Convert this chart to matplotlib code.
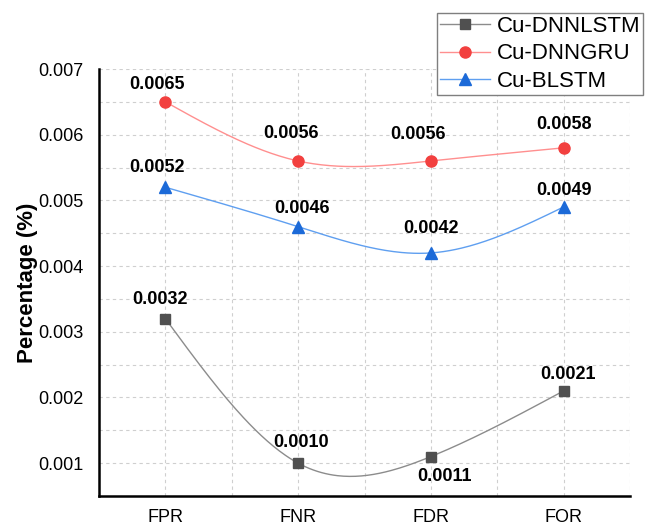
import numpy as np
import matplotlib
matplotlib.use("Agg")
import matplotlib.pyplot as plt
from matplotlib.transforms import offset_copy

plt.rcParams['font.family'] = ['Liberation Sans', 'DejaVu Sans']

categories = ["FPR", "FNR", "FDR", "FOR"]
series_names = ["Cu-DNNLSTM", "Cu-DNNGRU", "Cu-BLSTM"]
dnnlstm = [0.0032, 0.0010, 0.0011, 0.0021]
dnngru = [0.0065, 0.0056, 0.0056, 0.0058]
blstm = [0.0052, 0.0046, 0.0042, 0.0049]
labels_dnnlstm = ["0.0032", "0.0010", "0.0011", "0.0021"]
labels_dnngru = ["0.0065", "0.0056", "0.0056", "0.0058"]
labels_blstm = ["0.0052", "0.0046", "0.0042", "0.0049"]
y_ticks = [0.001, 0.002, 0.003, 0.004, 0.005, 0.006, 0.007]

# label offsets in pixels (dx, dy) relative to points
off_dnnlstm = [(-5, 19), (3, 21), (14, -20), (4, 16)]
off_dnngru = [(-8, 17), (-7, 27), (-13, 26), (0, 23)]
off_blstm = [(-8, 20), (4, 18), (0, 24), (0, 16)]


def natural_spline(xs, ys, n=200):
    xs = np.asarray(xs, float)
    ys = np.asarray(ys, float)
    k = len(xs)
    h = np.diff(xs)
    A = np.zeros((k, k))
    b = np.zeros(k)
    A[0, 0] = 1
    A[-1, -1] = 1
    for i in range(1, k - 1):
        A[i, i - 1] = h[i - 1]
        A[i, i] = 2 * (h[i - 1] + h[i])
        A[i, i + 1] = h[i]
        b[i] = 6 * ((ys[i + 1] - ys[i]) / h[i] - (ys[i] - ys[i - 1]) / h[i - 1])
    M = np.linalg.solve(A, b)
    xx = np.linspace(xs[0], xs[-1], n)
    yy = np.empty_like(xx)
    for j, x in enumerate(xx):
        i = min(np.searchsorted(xs, x, side='right') - 1, k - 2)
        t = (x - xs[i]) / h[i]
        yy[j] = ((1 - t) * ys[i] + t * ys[i + 1]
                 - h[i] ** 2 / 6 * t * (1 - t) * ((2 - t) * M[i] + (1 + t) * M[i + 1]))
    return xx, yy


fig = plt.figure(figsize=(6.54, 5.25), dpi=100)
ax = fig.add_axes([99 / 654, 1 - 496 / 525, 531 / 654, 427 / 525])

x = np.arange(len(categories))
specs = [
    (dnnlstm, labels_dnnlstm, off_dnnlstm, 's', '#505050', '#8c8c8c', 6.5, series_names[0]),
    (dnngru, labels_dnngru, off_dnngru, 'o', '#f2403f', '#ff8f8f', 8, series_names[1]),
    (blstm, labels_blstm, off_blstm, '^', '#1c6ad8', '#5f9ff0', 8.5, series_names[2]),
]
handles = []
for vals, labs, offs, mk, mc, lc, ms, name in specs:
    xx, yy = natural_spline(x, vals)
    ax.plot(xx, yy, color=lc, lw=1.0, zorder=3)
    ax.plot(x, vals, linestyle='none', marker=mk, color=mc, markersize=ms, zorder=4)
    h, = ax.plot([], [], color=lc, lw=1.0, marker=mk, markerfacecolor=mc,
                 markeredgecolor=mc, markersize=ms, label=name)
    handles.append(h)
    for xi, v, lab, (dx, dy) in zip(x, vals, labs, offs):
        tr = offset_copy(ax.transData, fig=fig, x=dx, y=dy, units='dots')
        ax.text(xi, v, lab, transform=tr, ha='center', va='center',
                fontsize=13, fontweight='bold', color='black', zorder=5)

ax.set_xlim(-0.5, 3.5)
ax.set_ylim(0.0005, 0.007)
ax.set_xticks(x)
ax.set_xticklabels(categories)
ax.set_yticks(y_ticks)
ax.set_yticklabels([f"{t:.3f}" for t in y_ticks])
ax.set_xticks(np.arange(-0.5, 3.6, 0.5), minor=True)
ax.set_yticks(np.arange(0.0005, 0.00701, 0.0005), minor=True)
ax.tick_params(which='both', length=0)
ax.tick_params(axis='both', labelsize=13, colors='black')
ax.tick_params(axis='x', pad=9)
ax.tick_params(axis='y', pad=11)
ax.grid(True, which='both', linestyle=(0, (3, 3)), color='#cfcfcf', lw=0.8, zorder=0)
ax.set_axisbelow(True)
for s in ['top', 'right']:
    ax.spines[s].set_visible(False)
for s in ['left', 'bottom']:
    ax.spines[s].set_linewidth(1.8)
    ax.spines[s].set_color('black')
ax.set_ylabel("Percentage (%)", fontsize=16, fontweight='bold', labelpad=0)

leg = fig.legend(handles=handles, loc='upper right',
                 bbox_to_anchor=(643 / 654, 1 - 13 / 525), borderaxespad=0,
                 fontsize=16, frameon=True, fancybox=False, framealpha=1,
                 edgecolor='#7f7f7f', handlelength=2.25, handletextpad=0.3,
                 labelspacing=0.3, borderpad=0.12)
leg.get_frame().set_linewidth(1.0)

fig.savefig("out.png", dpi=100)
